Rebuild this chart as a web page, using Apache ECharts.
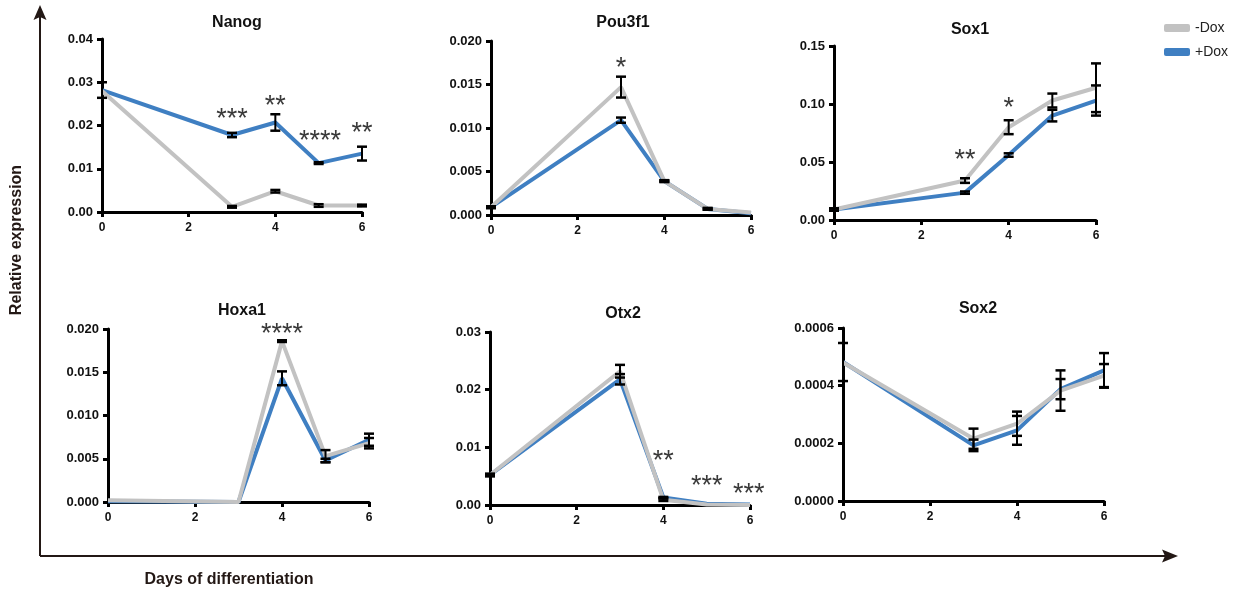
<!DOCTYPE html>
<html><head><meta charset="utf-8">
<script src="https://cdn.jsdelivr.net/npm/echarts@6/dist/echarts.min.js"></script>
<style>html,body{margin:0;padding:0;background:#fff}#c{width:1240px;height:597px}</style>
</head><body><div id="c"></div>
<script>
// ---------- DATA ----------
const days = [0, 3, 4, 5, 6];
const xTickLabels = ['0', '2', '4', '6'];
const genes = ['Nanog', 'Pou3f1', 'Sox1', 'Hoxa1', 'Otx2', 'Sox2'];

const nanogMinus = [0.0280, 0.0012, 0.0048, 0.0015, 0.0015];
const nanogMinusErr = [0.0000, 0.0002, 0.0003, 0.0003, 0.0002];
const nanogPlus = [0.0282, 0.0178, 0.0207, 0.0113, 0.0135];
const nanogPlusErr = [0.0018, 0.0005, 0.0019, 0.0002, 0.0016];
const nanogTicks = ['0.00', '0.01', '0.02', '0.03', '0.04'];

const pou3f1Minus = [0.0009, 0.0147, 0.0039, 0.0007, 0.0003];
const pou3f1MinusErr = [0.0001, 0.0012, 0.0001, 0.0001, 0.0000];
const pou3f1Plus = [0.0009, 0.0109, 0.0039, 0.0007, 0.0002];
const pou3f1PlusErr = [0.0001, 0.0003, 0.0001, 0.0001, 0.0000];
const pou3f1Ticks = ['0.000', '0.005', '0.010', '0.015', '0.020'];

const sox1Minus = [0.009, 0.034, 0.080, 0.103, 0.114];
const sox1MinusErr = [0.001, 0.002, 0.006, 0.006, 0.021];
const sox1Plus = [0.009, 0.0236, 0.056, 0.090, 0.103];
const sox1PlusErr = [0.001, 0.001, 0.0015, 0.005, 0.013];
const sox1Ticks = ['0.00', '0.05', '0.10', '0.15'];

const hoxa1Minus = [0.0002, 0.0000, 0.0186, 0.0053, 0.0068];
const hoxa1MinusErr = [0.0000, 0.0000, 0.0001, 0.0007, 0.0006];
const hoxa1Plus = [0.0001, 0.0000, 0.0143, 0.0048, 0.0072];
const hoxa1PlusErr = [0.0000, 0.0000, 0.0008, 0.0002, 0.0007];
const hoxa1Ticks = ['0.000', '0.005', '0.010', '0.015', '0.020'];

const otx2Minus = [0.0052, 0.0232, 0.0009, 0.0001, 0.0000];
const otx2MinusErr = [0.0002, 0.0011, 0.0002, 0.0000, 0.0000];
const otx2Plus = [0.0052, 0.0218, 0.0013, 0.0002, 0.0001];
const otx2PlusErr = [0.0002, 0.0009, 0.0001, 0.0000, 0.0000];
const otx2Ticks = ['0.00', '0.01', '0.02', '0.03'];

const sox2Minus = [0.000480, 0.000216, 0.000268, 0.000383, 0.000435];
const sox2MinusErr = [0.000000, 0.000035, 0.000042, 0.000070, 0.000040];
const sox2Plus = [0.000482, 0.000193, 0.000245, 0.000388, 0.000453];
const sox2PlusErr = [0.000066, 0.000020, 0.000050, 0.000035, 0.000060];
const sox2Ticks = ['0.0000', '0.0002', '0.0004', '0.0006'];

// significance marks: [day, value]
const nanogStarPos = [[3, 0.0228], [4, 0.0258], [5.03, 0.0177], [6, 0.0195]];
const nanogStarText = ['***', '**', '****', '**'];
const pou3f1StarPos = [[3, 0.0175]];
const pou3f1StarText = ['*'];
const sox1StarPos = [[3, 0.056], [4, 0.101]];
const sox1StarText = ['**', '*'];
const hoxa1StarPos = [[4, 0.0200]];
const hoxa1StarText = ['****'];
const otx2StarPos = [[4, 0.0085], [5, 0.0042], [5.97, 0.0029]];
const otx2StarText = ['**', '***', '***'];
const sox2StarPos = [];
const sox2StarText = [];

// ---------- BUILD ----------
const panels = [
  {minus: nanogMinus, minusErr: nanogMinusErr, plus: nanogPlus, plusErr: nanogPlusErr, ticks: nanogTicks, starPos: nanogStarPos, starText: nanogStarText},
  {minus: pou3f1Minus, minusErr: pou3f1MinusErr, plus: pou3f1Plus, plusErr: pou3f1PlusErr, ticks: pou3f1Ticks, starPos: pou3f1StarPos, starText: pou3f1StarText},
  {minus: sox1Minus, minusErr: sox1MinusErr, plus: sox1Plus, plusErr: sox1PlusErr, ticks: sox1Ticks, starPos: sox1StarPos, starText: sox1StarText},
  {minus: hoxa1Minus, minusErr: hoxa1MinusErr, plus: hoxa1Plus, plusErr: hoxa1PlusErr, ticks: hoxa1Ticks, starPos: hoxa1StarPos, starText: hoxa1StarText},
  {minus: otx2Minus, minusErr: otx2MinusErr, plus: otx2Plus, plusErr: otx2PlusErr, ticks: otx2Ticks, starPos: otx2StarPos, starText: otx2StarText},
  {minus: sox2Minus, minusErr: sox2MinusErr, plus: sox2Plus, plusErr: sox2PlusErr, ticks: sox2Ticks, starPos: sox2StarPos, starText: sox2StarText}
];
// layout (pixels)
const gridBoxes = [
  {left: 102, top: 39, width: 260, height: 173},
  {left: 491, top: 41, width: 260, height: 174},
  {left: 834, top: 46, width: 262, height: 174},
  {left: 108, top: 329, width: 261, height: 173},
  {left: 490, top: 332, width: 260, height: 173},
  {left: 843, top: 328, width: 261, height: 173}
];
const titlePos = [[232, 10], [618, 10], [965, 17], [237, 298], [618, 301], [973, 296]];

const GRAY = '#c2c2c2', BLUE = '#3f7fc2', INK = '#231815';
const FONT = 'Liberation Sans, Arial, sans-serif';

const option = {
  animation: false,
  backgroundColor: '#fff',
  title: [], grid: [], xAxis: [], yAxis: [], series: [],
  legend: {
    data: ['-Dox', '+Dox'], orient: 'vertical', left: 1159, top: 16,
    icon: 'roundRect', itemWidth: 26, itemHeight: 8, itemGap: 10,
    textStyle: {fontFamily: FONT, fontSize: 14, color: '#222'}
  },
  graphic: [
    {type: 'line', shape: {x1: 40, y1: 556, x2: 40, y2: 16}, style: {stroke: INK, lineWidth: 2}},
    {type: 'polygon', shape: {points: [[40, 5], [33.5, 20], [40, 17], [46.5, 20]]}, style: {fill: INK}},
    {type: 'line', shape: {x1: 40, y1: 556, x2: 1168, y2: 556}, style: {stroke: INK, lineWidth: 2}},
    {type: 'polygon', shape: {points: [[1178, 556], [1162, 549.5], [1165, 556], [1162, 562.5]]}, style: {fill: INK}},
    {type: 'text', x: 17, y: 240, rotation: Math.PI / 2, style: {text: 'Relative expression', font: 'bold 16px ' + FONT, fill: INK, align: 'center', verticalAlign: 'middle'}},
    {type: 'text', x: 229, y: 580, style: {text: 'Days of differentiation', font: 'bold 16px ' + FONT, fill: INK, align: 'center', verticalAlign: 'middle'}}
  ]
};

function errRender(params, api) {
  const x = api.value(0), y = api.value(1), e = api.value(2);
  if (!(e > 0)) return null;
  const t = api.coord([x, y + e]), b = api.coord([x, y - e]);
  const w = 5, st = {stroke: '#000', lineWidth: 2};
  return {type: 'group', children: [
    {type: 'line', shape: {x1: t[0], y1: t[1], x2: b[0], y2: b[1]}, style: st},
    {type: 'line', shape: {x1: t[0] - w, y1: t[1], x2: t[0] + w, y2: t[1]}, style: {stroke: '#000', lineWidth: 2.5}},
    {type: 'line', shape: {x1: b[0] - w, y1: b[1], x2: b[0] + w, y2: b[1]}, style: {stroke: '#000', lineWidth: 2.5}}
  ]};
}

panels.forEach((p, i) => {
  const g = gridBoxes[i];
  option.grid.push({left: g.left, top: g.top, width: g.width, height: g.height, containLabel: false});
  option.title.push({text: genes[i], left: titlePos[i][0], top: titlePos[i][1], textAlign: 'center',
    textStyle: {fontFamily: FONT, fontWeight: 'bold', fontSize: 16, color: '#111'}});
  const axisCommon = {
    gridIndex: i,
    axisLine: {show: true, onZero: false, lineStyle: {color: '#000', width: 3}},
    axisTick: {show: true, length: 5, inside: false, lineStyle: {color: '#000', width: 3}},
    splitLine: {show: false},
    axisLabel: {fontFamily: FONT, fontWeight: 'bold', color: '#111'}
  };
  option.xAxis.push(Object.assign({}, axisCommon, {
    type: 'value', min: 0, max: 6, interval: 2,
    axisLabel: Object.assign({}, axisCommon.axisLabel, {fontSize: 12, margin: 10,
      formatter: (v, idx) => xTickLabels[idx]})
  }));
  const ymax = parseFloat(p.ticks[p.ticks.length - 1]);
  const yint = parseFloat(p.ticks[1]);
  const ticks = p.ticks;
  option.yAxis.push(Object.assign({}, axisCommon, {
    type: 'value', min: 0, max: ymax, interval: yint,
    axisLabel: Object.assign({}, axisCommon.axisLabel, {fontSize: 13, margin: 9,
      formatter: (v, idx) => ticks[idx]})
  }));
  const mk = (arr) => days.map((d, k) => [d, arr[k]]);
  const mkErr = (arr, err) => days.map((d, k) => [d, arr[k], err[k]]);
  option.series.push({
    name: '+Dox', type: 'line', xAxisIndex: i, yAxisIndex: i, data: mk(p.plus),
    showSymbol: false, symbol: 'none', lineStyle: {color: BLUE, width: 4}, itemStyle: {color: BLUE}, z: 2
  });
  option.series.push({
    name: '-Dox', type: 'line', xAxisIndex: i, yAxisIndex: i, data: mk(p.minus),
    showSymbol: false, symbol: 'none', lineStyle: {color: GRAY, width: 4}, itemStyle: {color: GRAY}, z: 3
  });
  option.series.push({
    type: 'custom', xAxisIndex: i, yAxisIndex: i, renderItem: errRender, clip: false, z: 4,
    encode: {x: 0, y: 1}, data: mkErr(p.plus, p.plusErr)
  });
  option.series.push({
    type: 'custom', xAxisIndex: i, yAxisIndex: i, renderItem: errRender, clip: false, z: 4,
    encode: {x: 0, y: 1}, data: mkErr(p.minus, p.minusErr)
  });
  if (p.starPos.length) {
    const txt = p.starText;
    option.series.push({
      type: 'custom', xAxisIndex: i, yAxisIndex: i, clip: false, z: 5, encode: {x: 0, y: 1},
      data: p.starPos,
      renderItem: (params, api) => {
        const c = api.coord([api.value(0), api.value(1)]);
        return {type: 'text', x: c[0], y: c[1] + 6, style: {text: txt[params.dataIndex],
          font: '27px ' + FONT, fill: '#3a3a3a', align: 'center', verticalAlign: 'middle'}};
      }
    });
  }
});

const chart = echarts.init(document.getElementById('c'), null, {renderer: 'canvas'});
chart.setOption(option);
</script>
</body></html>
